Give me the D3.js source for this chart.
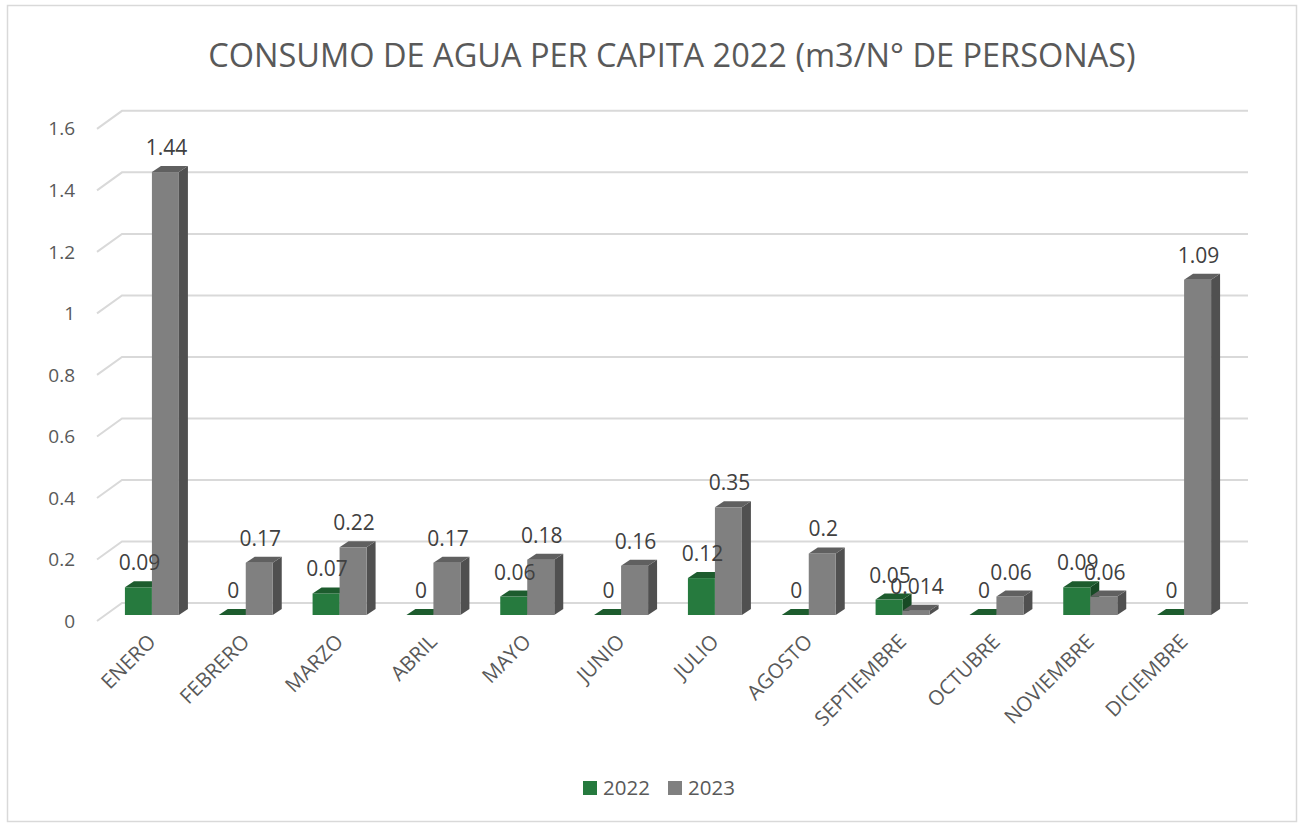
<!DOCTYPE html>
<html>
<head>
<meta charset="utf-8">
<script src="https://cdn.jsdelivr.net/npm/d3@7"></script>
<style>
  body { margin: 0; background: #fff; }
  text { font-family: "Open Sans", sans-serif; }
</style>
</head>
<body>
<div id="grafica"></div>
<script>
// datos
var meses = ["ENERO", "FEBRERO", "MARZO", "ABRIL", "MAYO", "JUNIO", "JULIO", "AGOSTO", "SEPTIEMBRE", "OCTUBRE", "NOVIEMBRE", "DICIEMBRE"];
var valores2022 = [0.09, 0, 0.07, 0, 0.06, 0, 0.12, 0, 0.05, 0, 0.09, 0];
var valores2023 = [1.44, 0.17, 0.22, 0.17, 0.18, 0.16, 0.35, 0.2, 0.014, 0.06, 0.06, 1.09];
var ticksY = [0, 0.2, 0.4, 0.6, 0.8, 1, 1.2, 1.4, 1.6];
var series = ["2022", "2023"];

var width = 1299, height = 824;

var svg = d3.select("#grafica")
  .append("svg")
  .attr("width", width)
  .attr("height", height);

// borde del gráfico
svg.append("rect")
  .attr("x", 7.5).attr("y", 5.5)
  .attr("width", 1289).attr("height", 816)
  .style("fill", "none")
  .style("stroke", "#d9d9d9")
  .style("stroke-width", 1.5);

// escalas (plano frontal del suelo)
var x = d3.scaleBand()
  .domain(meses)
  .range([97, 1223]);
var y = d3.scaleLinear()
  .domain([0, 1.6])
  .range([621, 621 - 1.6 * 307.6]);

var wall = { dx: 25, dy: -18 };   // profundidad de la pared
var pos = { dx: 8, dy: -6 };      // donde están las barras
var prof = { dx: 9, dy: -6 };     // grosor de las barras
var barW = 27;

// líneas de la cuadrícula
var grid = svg.append("g");
ticksY.forEach(function (t) {
  grid.append("polyline")
    .attr("points", [
      [97, y(t)],
      [97 + wall.dx, y(t) + wall.dy],
      [1223 + wall.dx, y(t) + wall.dy]
    ].join(" "))
    .style("fill", "none")
    .style("stroke", "#d9d9d9")
    .style("stroke-width", 2);
});

// etiquetas eje y
svg.append("g")
  .selectAll("text")
  .data(ticksY)
  .enter()
  .append("text")
  .attr("x", 75)
  .attr("y", function (d) { return y(d); })
  .attr("dy", "0.35em")
  .attr("text-anchor", "end")
  .style("font-size", "19px")
  .style("fill", "#595959")
  .text(function (d) { return d; });

var colores = {
  "2022": { front: "#267a3e", top: "#1d5c2e", side: "#174a25" },
  "2023": { front: "#808080", top: "#606060", side: "#505050" }
};

// barras 3D
var barras = svg.append("g");
var etiquetas = [];
meses.forEach(function (m, i) {
  [valores2022[i], valores2023[i]].forEach(function (v, s) {
    var c = colores[series[s]];
    var x0 = x(m) + x.bandwidth() / 2 - barW + pos.dx + s * barW;
    var x1 = x0 + barW;
    var yb = y(0) + pos.dy;
    var yt = y(v) + pos.dy;
    var g = barras.append("g");
    if (v > 0) {
      g.append("polygon")
        .attr("points", [[x1, yb], [x1 + prof.dx, yb + prof.dy], [x1 + prof.dx, yt + prof.dy], [x1, yt]].join(" "))
        .style("fill", c.side);
      g.append("rect")
        .attr("x", x0).attr("y", yt)
        .attr("width", barW).attr("height", yb - yt)
        .style("fill", c.front);
    }
    g.append("polygon")
      .attr("points", [[x0, yt], [x0 + prof.dx, yt + prof.dy], [x1 + prof.dx, yt + prof.dy], [x1, yt]].join(" "))
      .style("fill", c.top);
    etiquetas.push({ x: (x0 + x1) / 2 + 1, y: yt - 17, v: v });
  });
});

// etiquetas de valores
svg.append("g")
  .selectAll("text")
  .data(etiquetas)
  .enter()
  .append("text")
  .attr("x", function (d) { return d.x; })
  .attr("y", function (d) { return d.y; })
  .attr("text-anchor", "middle")
  .style("font-size", "21px")
  .style("fill", "#404040")
  .text(function (d) { return d.v; });

// etiquetas de meses
svg.append("g")
  .selectAll("text")
  .data(meses)
  .enter()
  .append("text")
  .attr("transform", function (d) {
    return "translate(" + (x(d) + x.bandwidth() / 2 + 13) + ",643) rotate(-45)";
  })
  .attr("text-anchor", "end")
  .style("font-size", "20.5px")
  .style("fill", "#595959")
  .text(function (d) { return d; });

// título
svg.append("text")
  .attr("x", 672)
  .attr("y", 67)
  .attr("text-anchor", "middle")
  .style("font-size", "32.5px")
  .style("fill", "#595959")
  .text("CONSUMO DE AGUA PER CAPITA 2022 (m3/N° DE PERSONAS)");

// leyenda
var ley = svg.append("g");
var leyX = [583, 668];
series.forEach(function (s, i) {
  ley.append("rect")
    .attr("x", leyX[i]).attr("y", 781)
    .attr("width", 14).attr("height", 14)
    .style("fill", colores[s].front);
  ley.append("text")
    .attr("x", leyX[i] + 20).attr("y", 788)
    .attr("dy", "0.35em")
    .style("font-size", "20.5px")
    .style("fill", "#595959")
    .text(s);
});
</script>
</body>
</html>
